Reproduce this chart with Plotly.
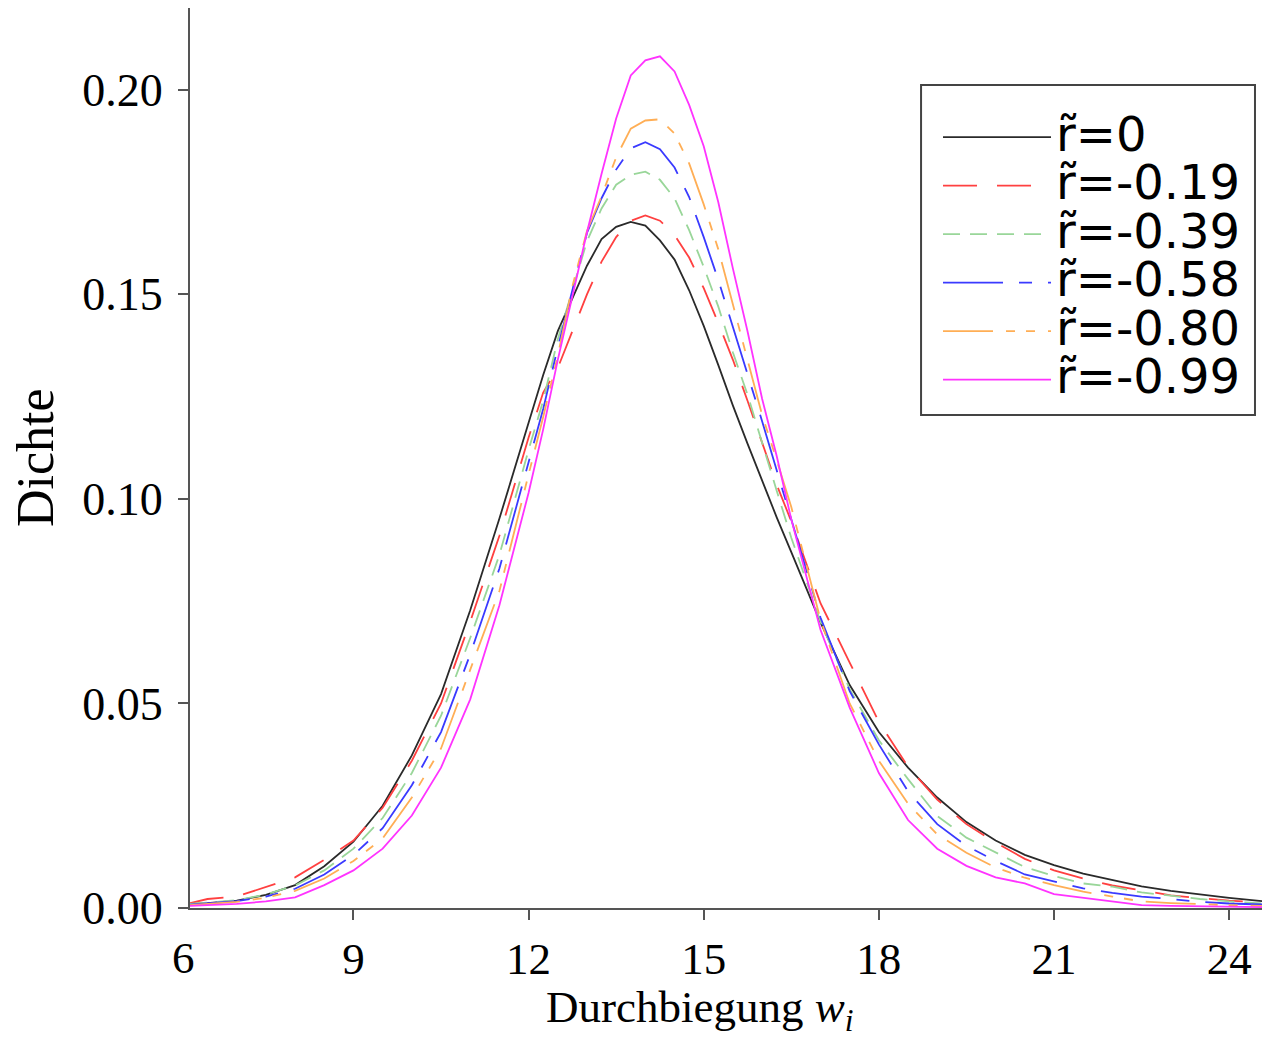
import plotly.graph_objects as go

# x grid (Durchbiegung w_i)
x_vals = [6.2, 6.5, 7.0, 7.5, 8.0, 8.5, 9.0, 9.5, 10.0, 10.5, 11.0, 11.5, 12.0, 12.25, 12.5, 12.75,
          13.0, 13.25, 13.5, 13.75, 14.0, 14.25, 14.5, 14.75, 15.0, 15.25, 15.5, 15.75, 16.0, 16.25,
          16.5, 17.0, 17.5, 18.0, 18.5, 19.0, 19.5, 20.0, 20.5, 21.0, 21.5, 22.0, 22.5, 23.0, 23.5,
          24.0, 24.7]

dens_r0 = [0.0010, 0.0012, 0.0018, 0.0032, 0.0056, 0.0102, 0.0162, 0.0250, 0.0373, 0.0523, 0.0728, 0.0952,
           0.1186, 0.1303, 0.1410, 0.1490, 0.1570, 0.1635, 0.1665, 0.1677, 0.1668, 0.1632, 0.1585, 0.1510,
           0.1423, 0.1327, 0.1228, 0.1135, 0.1045, 0.0955, 0.0870, 0.0698, 0.0545, 0.0430, 0.0343, 0.0270,
           0.0210, 0.0165, 0.0130, 0.0105, 0.0084, 0.0068, 0.0053, 0.0042, 0.0033, 0.0025, 0.0015]

dens_r019 = [0.0012, 0.0022, 0.0028, 0.0052, 0.0075, 0.0118, 0.0165, 0.0245, 0.0360, 0.0500, 0.0700, 0.0910,
             0.1150, 0.1260, 0.1320, 0.1410, 0.1500, 0.1580, 0.1640, 0.1680, 0.1693, 0.1680, 0.1645, 0.1590,
             0.1515, 0.1430, 0.1340, 0.1240, 0.1135, 0.1035, 0.0945, 0.0745, 0.0600, 0.0455, 0.0345, 0.0265,
             0.0205, 0.0160, 0.0120, 0.0092, 0.0072, 0.0055, 0.0043, 0.0031, 0.0024, 0.0018, 0.0013]

dens_r039 = [0.0010, 0.0013, 0.0019, 0.0033, 0.0055, 0.0092, 0.0145, 0.0220, 0.0330, 0.0470, 0.0660, 0.0863,
             0.1120, 0.1240, 0.1390, 0.1510, 0.1630, 0.1710, 0.1768, 0.1792, 0.1800, 0.1780, 0.1735, 0.1657,
             0.1567, 0.1470, 0.1358, 0.1255, 0.1135, 0.1020, 0.0905, 0.0700, 0.0535, 0.0410, 0.0315, 0.0225,
             0.0172, 0.0136, 0.0100, 0.0078, 0.0060, 0.0052, 0.0038, 0.0030, 0.0022, 0.0016, 0.0010]

dens_r058 = [0.0008, 0.0011, 0.0017, 0.0028, 0.0047, 0.0082, 0.0130, 0.0195, 0.0300, 0.0430, 0.0620, 0.0830,
             0.1090, 0.1220, 0.1370, 0.1510, 0.1650, 0.1735, 0.1805, 0.1857, 0.1872, 0.1855, 0.1810, 0.1738,
             0.1640, 0.1535, 0.1417, 0.1305, 0.1190, 0.1070, 0.0955, 0.0710, 0.0530, 0.0400, 0.0285, 0.0205,
             0.0152, 0.0115, 0.0082, 0.0065, 0.0048, 0.0037, 0.0028, 0.0022, 0.0015, 0.0011, 0.0008]

dens_r080 = [0.0007, 0.0010, 0.0015, 0.0025, 0.0042, 0.0072, 0.0115, 0.0170, 0.0270, 0.0390, 0.0580, 0.0775,
             0.1060, 0.1200, 0.1350, 0.1520, 0.1655, 0.1740, 0.1835, 0.1905, 0.1925, 0.1928, 0.1893, 0.1820,
             0.1720, 0.1610, 0.1475, 0.1340, 0.1205, 0.1095, 0.0980, 0.0705, 0.0500, 0.0360, 0.0255, 0.0180,
             0.0135, 0.0099, 0.0074, 0.0056, 0.0040, 0.0028, 0.0016, 0.0012, 0.0009, 0.0007, 0.0005]

dens_r099 = [0.0005, 0.0007, 0.0010, 0.0016, 0.0026, 0.0056, 0.0092, 0.0145, 0.0226, 0.0343, 0.0510, 0.0740,
             0.1015, 0.1170, 0.1340, 0.1495, 0.1652, 0.1795, 0.1930, 0.2035, 0.2072, 0.2082, 0.2045, 0.1963,
             0.1862, 0.1725, 0.1563, 0.1410, 0.1245, 0.1105, 0.0950, 0.0680, 0.0490, 0.0330, 0.0215, 0.0145,
             0.0103, 0.0075, 0.0060, 0.0034, 0.0025, 0.0015, 0.0007, 0.0005, 0.0004, 0.0003, 0.0002]

series_names = ["r\u0303=0", "r\u0303=-0.19", "r\u0303=-0.39", "r\u0303=-0.58", "r\u0303=-0.80", "r\u0303=-0.99"]
series_data = [dens_r0, dens_r019, dens_r039, dens_r058, dens_r080, dens_r099]
series_colors = ["#2a2a2a", "#ff4040", "#99d699", "#3a3aff", "#ffae55", "#ff33ff"]
series_dash = ["solid", "34px,20px", "17px,10px", "60px,16px,13px,16px",
               "50px,13px,9px,11px,9px,13px", "solid"]

x_ticks = [6, 9, 12, 15, 18, 21, 24]
y_ticks = [0.00, 0.05, 0.10, 0.15, 0.20]
x_title = "Durchbiegung <i>w<sub>i</sub></i>"
y_title = "Dichte"

fig = go.Figure()
for name, ys, col, dash in zip(series_names, series_data, series_colors, series_dash):
    fig.add_trace(go.Scatter(x=x_vals, y=ys, mode="lines",
                             name="<span style='font-size:48px'>" + name + "</span>",
                             line=dict(color=col, width=1.8, dash=dash)))

axis_col = "#555555"
serif = "Liberation Serif, Times New Roman, serif"

# the page body adds an 8px margin, so the figure is 1262x1026 and sits at (8, 8)
fig.update_layout(
    width=1262, height=1026,
    margin=dict(l=182, r=0, t=0, b=126),
    paper_bgcolor="white", plot_bgcolor="white",
    showlegend=True,
    legend=dict(x=0.6926, y=0.889, xanchor="left", yanchor="top",
                bgcolor="rgba(0,0,0,0)", borderwidth=0,
                font=dict(family="DejaVu Sans, Verdana, sans-serif", size=35, color="black"),
                itemwidth=108, tracegroupgap=0),
    xaxis=dict(range=[6.2, 24.7], tickvals=x_ticks, ticktext=[str(t) for t in x_ticks],
               showgrid=False, zeroline=False, showline=True, linecolor=axis_col, linewidth=2,
               mirror=True, ticks="outside", ticklen=10, tickwidth=2, tickcolor=axis_col,
               tickfont=dict(family=serif, size=45, color="black"), automargin=False),
    yaxis=dict(range=[0, 0.22], tickvals=y_ticks, ticktext=["%.2f" % t for t in y_ticks],
               showgrid=False, zeroline=False, showline=True, linecolor=axis_col, linewidth=2,
               ticks="outside", ticklen=10, tickwidth=2, tickcolor=axis_col, ticklabelstandoff=6,
               tickfont=dict(family=serif, size=46, color="black"), automargin=False),
    shapes=[dict(type="rect", xref="paper", yref="paper", x0=0.6769, x1=0.9861, y0=0.5478, y1=0.9144,
                 line=dict(color="#444444", width=2), fillcolor="white", layer="below")],
    annotations=[
        dict(text="6", xref="paper", yref="paper", x=-0.0056, y=-0.026, xanchor="center", yanchor="top",
             showarrow=False, font=dict(family=serif, size=45, color="black")),
        dict(text=x_title, xref="paper", yref="paper", x=0.472, y=-0.0795, xanchor="center", yanchor="top",
             showarrow=False, font=dict(family=serif, size=45, color="black")),
        dict(text=y_title, xref="paper", yref="paper", x=-0.1435, y=0.5, xanchor="center", yanchor="middle",
             textangle=-90, showarrow=False, font=dict(family=serif, size=52, color="black")),
    ],
)

fig.write_html("out.html")
